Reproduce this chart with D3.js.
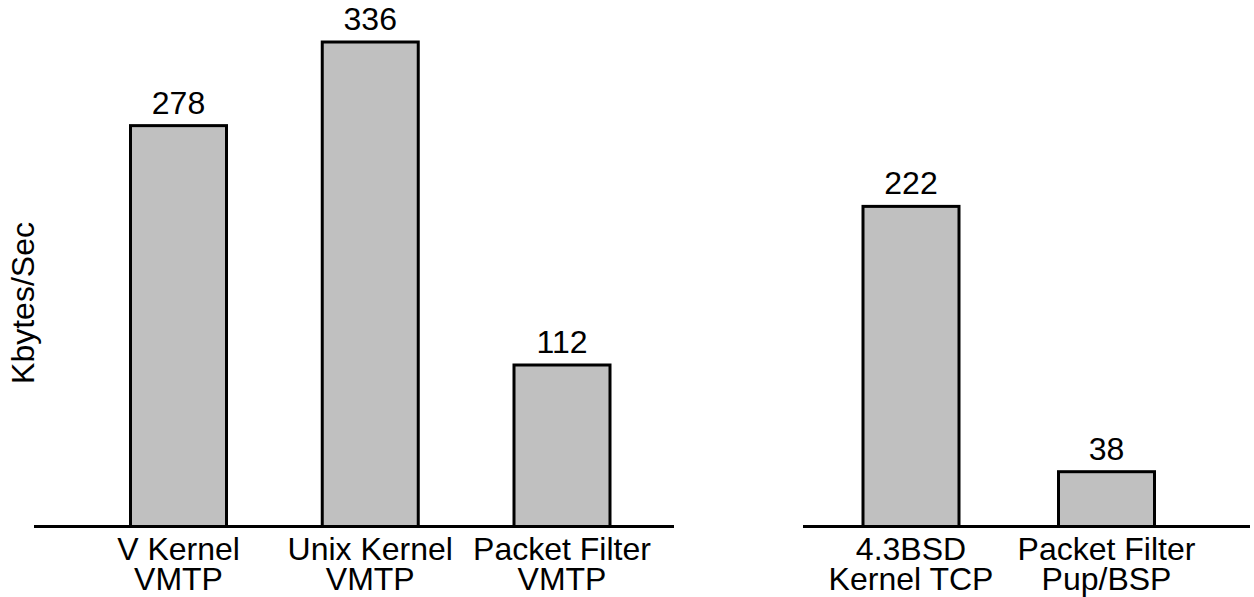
<!DOCTYPE html>
<html>
<head>
<meta charset="utf-8">
<script src="https://cdn.jsdelivr.net/npm/d3@7"></script>
<style>
	body { margin: 0; background: #fff; }
	text { font-family: "Liberation Sans", Arial, Helvetica, sans-serif; font-size: 32px; fill: #000; }
</style>
</head>
<body>
<svg id="chart" width="1254" height="597"></svg>
<script>
// left group: VMTP implementations
var leftCats = ["V Kernel|VMTP", "Unix Kernel|VMTP", "Packet Filter|VMTP"];
var leftValues = [278, 336, 112];
// right group: stream protocols
var rightCats = ["4.3BSD|Kernel TCP", "Packet Filter|Pup/BSP"];
var rightValues = [222, 38];
var yLabel = "Kbytes/Sec";

var svg = d3.select("#chart");
var baseY = 526.5;
var barW = 96;

var yScale = d3.scaleLinear().domain([0, 336]).range([baseY, 42]);

var groups = [
	{ cats: leftCats, values: leftValues, x: d3.scalePoint().domain(leftCats).range([178.5, 562]), line: [34, 674] },
	{ cats: rightCats, values: rightValues, x: d3.scalePoint().domain(rightCats).range([911, 1106.5]), line: [803, 1250] }
];

groups.forEach(function (grp) {
	var data = grp.cats.map(function (c, i) { return { cat: c, value: grp.values[i] }; });
	var g = svg.append("g");

	g.selectAll(".bar")
		.data(data)
		.enter()
		.append("rect")
		.attr("class", "bar")
		.attr("x", function (d) { return grp.x(d.cat) - barW / 2; })
		.attr("y", function (d) { return yScale(d.value); })
		.attr("width", barW)
		.attr("height", function (d) { return baseY - yScale(d.value); })
		.attr("fill", "#c0c0c0")
		.attr("stroke", "#000")
		.attr("stroke-width", 3);

	g.selectAll(".val")
		.data(data)
		.enter()
		.append("text")
		.attr("class", "val")
		.attr("x", function (d) { return grp.x(d.cat); })
		.attr("y", function (d) { return yScale(d.value) - 12; })
		.attr("text-anchor", "middle")
		.text(function (d) { return d.value; });

	g.append("line")
		.attr("x1", grp.line[0])
		.attr("x2", grp.line[1])
		.attr("y1", baseY)
		.attr("y2", baseY)
		.attr("stroke", "#000")
		.attr("stroke-width", 3);

	// two-line category labels, split on "|"
	var labels = g.selectAll(".cat")
		.data(data)
		.enter()
		.append("text")
		.attr("class", "cat")
		.attr("text-anchor", "middle")
		.attr("transform", function (d) { return "translate(" + grp.x(d.cat) + ",560)"; });

	labels.append("tspan")
		.attr("x", 0)
		.attr("y", 0)
		.text(function (d) { return d.cat.split("|")[0]; });
	labels.append("tspan")
		.attr("x", 0)
		.attr("y", 30)
		.text(function (d) { return d.cat.split("|")[1]; });
});

svg.append("text")
	.attr("transform", "translate(34,303) rotate(-90)")
	.attr("text-anchor", "middle")
	.text(yLabel);
</script>
</body>
</html>
